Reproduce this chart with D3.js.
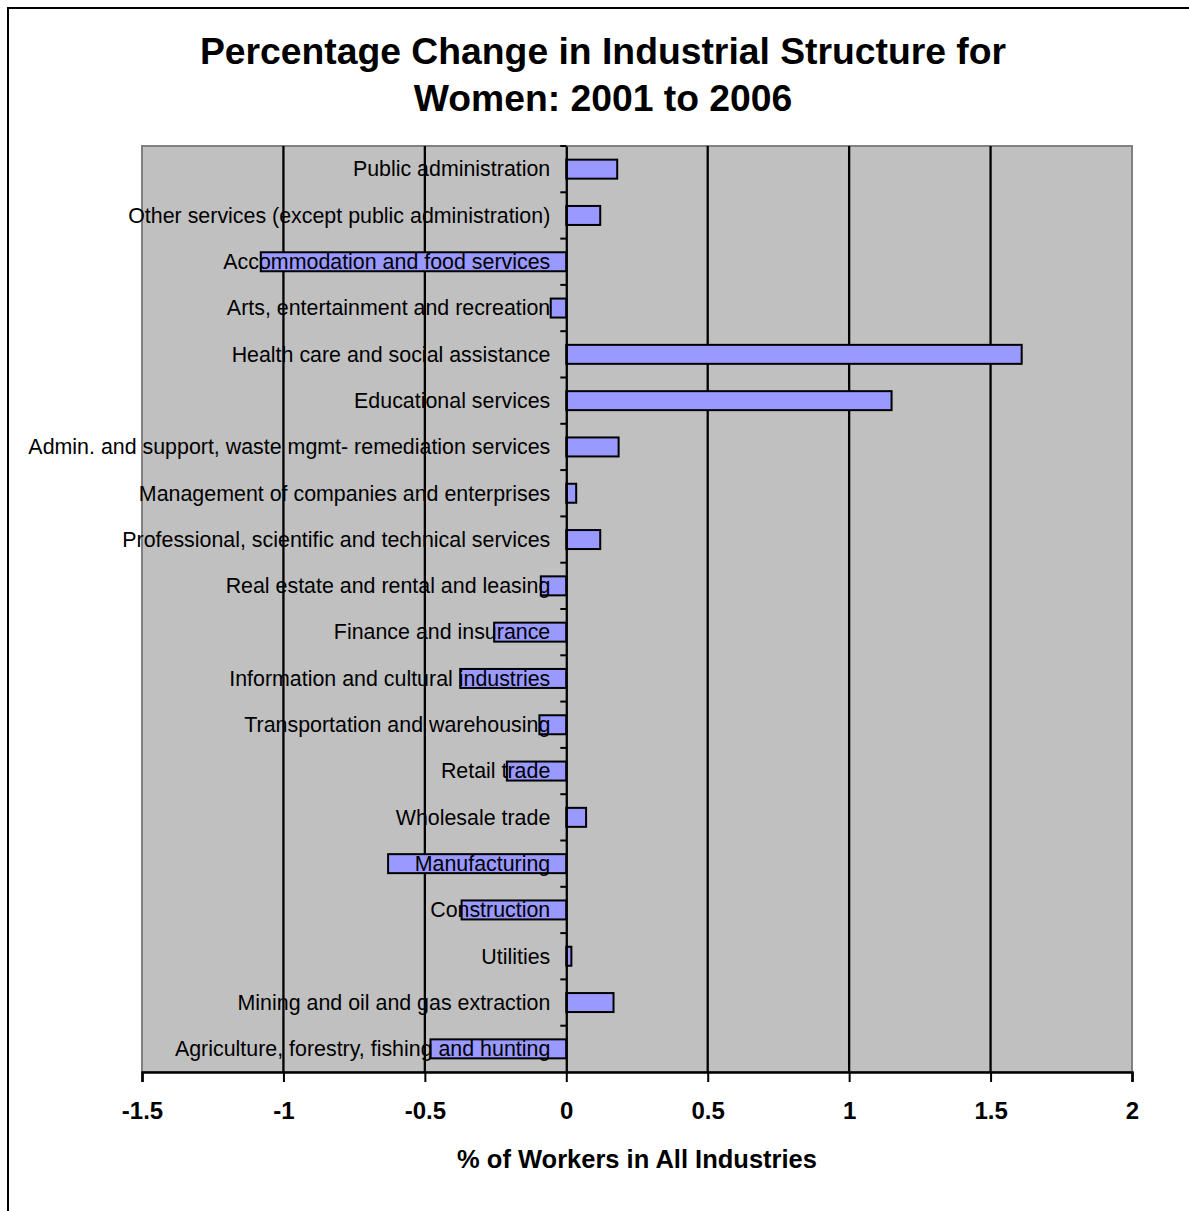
<!DOCTYPE html>
<html>
<head>
<meta charset="utf-8">
<script src="https://cdn.jsdelivr.net/npm/d3@7"></script>
<style>
  html, body { margin: 0; padding: 0; background: #fff; }
  svg { display: block; }
</style>
</head>
<body>
<svg id="chart" width="1189" height="1211"></svg>
<script>
const categories = [
  "Public administration",
  "Other services (except public administration)",
  "Accommodation and food services",
  "Arts, entertainment and recreation",
  "Health care and social assistance",
  "Educational services",
  "Admin. and support, waste mgmt- remediation services",
  "Management of companies and enterprises",
  "Professional, scientific and technical services",
  "Real estate and rental and leasing",
  "Finance and insurance",
  "Information and cultural industries",
  "Transportation and warehousing",
  "Retail trade",
  "Wholesale trade",
  "Manufacturing",
  "Construction",
  "Utilities",
  "Mining and oil and gas extraction",
  "Agriculture, forestry, fishing and hunting"
];
const values = [
  0.18, 0.12, -1.08, -0.055, 1.61, 1.15, 0.185, 0.035, 0.12, -0.09,
  -0.255, -0.375, -0.095, -0.21, 0.07, -0.63, -0.37, 0.018, 0.167, -0.48
];
const xTicks = [-1.5, -1, -0.5, 0, 0.5, 1, 1.5, 2];
const xTickLabels = ["-1.5", "-1", "-0.5", "0", "0.5", "1", "1.5", "2"];
const titleLines = ["Percentage Change in Industrial Structure for", "Women: 2001 to 2006"];
const xAxisTitle = "% of Workers in All Industries";

(function () {
const svg = d3.select("#chart");
const font = "'Liberation Sans', Arial, sans-serif";

// outer chart border
svg.append("rect").attr("x", 8).attr("y", 8).attr("width", 1200).attr("height", 1220)
  .attr("fill", "#fff").attr("stroke", "#000").attr("stroke-width", 2);

const pL = 142, pR = 1132, pT = 146, pB = 1072;
const x = d3.scaleLinear().domain([-1.5, 2]).range([pL, pR]);
const y = d3.scaleBand().domain(categories).range([pT, pB]).paddingInner(0.59).paddingOuter(0.295);
const yb = d3.scaleBand().domain(categories).range([pT, pB]);

// plot area
svg.append("rect").attr("x", pL).attr("y", pT).attr("width", pR - pL).attr("height", pB - pT)
  .attr("fill", "#c0c0c0").attr("stroke", "#808080").attr("stroke-width", 2);

// gridlines
svg.append("g").selectAll("line").data(xTicks.filter(d => d !== -1.5 && d !== 2 && d !== 0)).join("line")
  .attr("x1", d => x(d)).attr("x2", d => x(d)).attr("y1", pT).attr("y2", pB)
  .attr("stroke", "#000").attr("stroke-width", 2.3);

// bars
svg.append("g").selectAll("rect").data(values).join("rect")
  .attr("x", d => x(Math.min(0, d)))
  .attr("width", d => Math.abs(x(d) - x(0)))
  .attr("y", (d, i) => y(categories[i]))
  .attr("height", y.bandwidth())
  .attr("fill", "#9999ff").attr("stroke", "#000").attr("stroke-width", 2);

// category axis at zero
const yAxis = d3.axisLeft(yb).tickSize(0).tickFormat("");
svg.append("g").attr("transform", `translate(${x(0)},0)`).call(yAxis)
  .call(g => g.select(".domain").attr("stroke", "#000").attr("stroke-width", 2.3));
// category ticks at band boundaries
svg.append("g").selectAll("line").data(categories.slice(1)).join("line")
  .attr("x1", x(0) - 6).attr("x2", x(0)).attr("y1", d => yb(d)).attr("y2", d => yb(d))
  .attr("stroke", "#000").attr("stroke-width", 2);
svg.append("line").attr("x1", x(0) - 6).attr("x2", x(0)).attr("y1", pT).attr("y2", pT)
  .attr("stroke", "#000").attr("stroke-width", 2);

// category labels
svg.append("g").selectAll("text").data(categories).join("text")
  .attr("x", x(0) - 16)
  .attr("y", d => yb(d) + yb.bandwidth() / 2)
  .attr("dy", "0.34em")
  .attr("text-anchor", "end")
  .attr("font-family", font).attr("font-size", 21.4).attr("fill", "#000")
  .text(d => d);

// x axis
const xAxis = d3.axisBottom(x).tickValues(xTicks).tickSize(10).tickPadding(20)
  .tickFormat((d, i) => xTickLabels[i]);
svg.append("g").attr("transform", `translate(0,${pB})`).call(xAxis)
  .call(g => g.select(".domain").attr("stroke", "#000").attr("stroke-width", 2.5))
  .call(g => g.selectAll(".tick line").attr("stroke", "#000").attr("stroke-width", 2))
  .call(g => g.selectAll(".tick text").attr("font-family", font).attr("font-size", 24)
    .attr("font-weight", "bold").attr("fill", "#000"));

// axis title
svg.append("text").attr("x", 637).attr("y", 1168).attr("text-anchor", "middle")
  .attr("font-family", font).attr("font-size", 25.5).attr("font-weight", "bold").text(xAxisTitle);

// title
svg.append("g").selectAll("text").data(titleLines).join("text")
  .attr("x", 603).attr("y", (d, i) => 64 + i * 47).attr("text-anchor", "middle")
  .attr("font-family", font).attr("font-size", 37.3).attr("font-weight", "bold").text(d => d);
})();
</script>
</body>
</html>
